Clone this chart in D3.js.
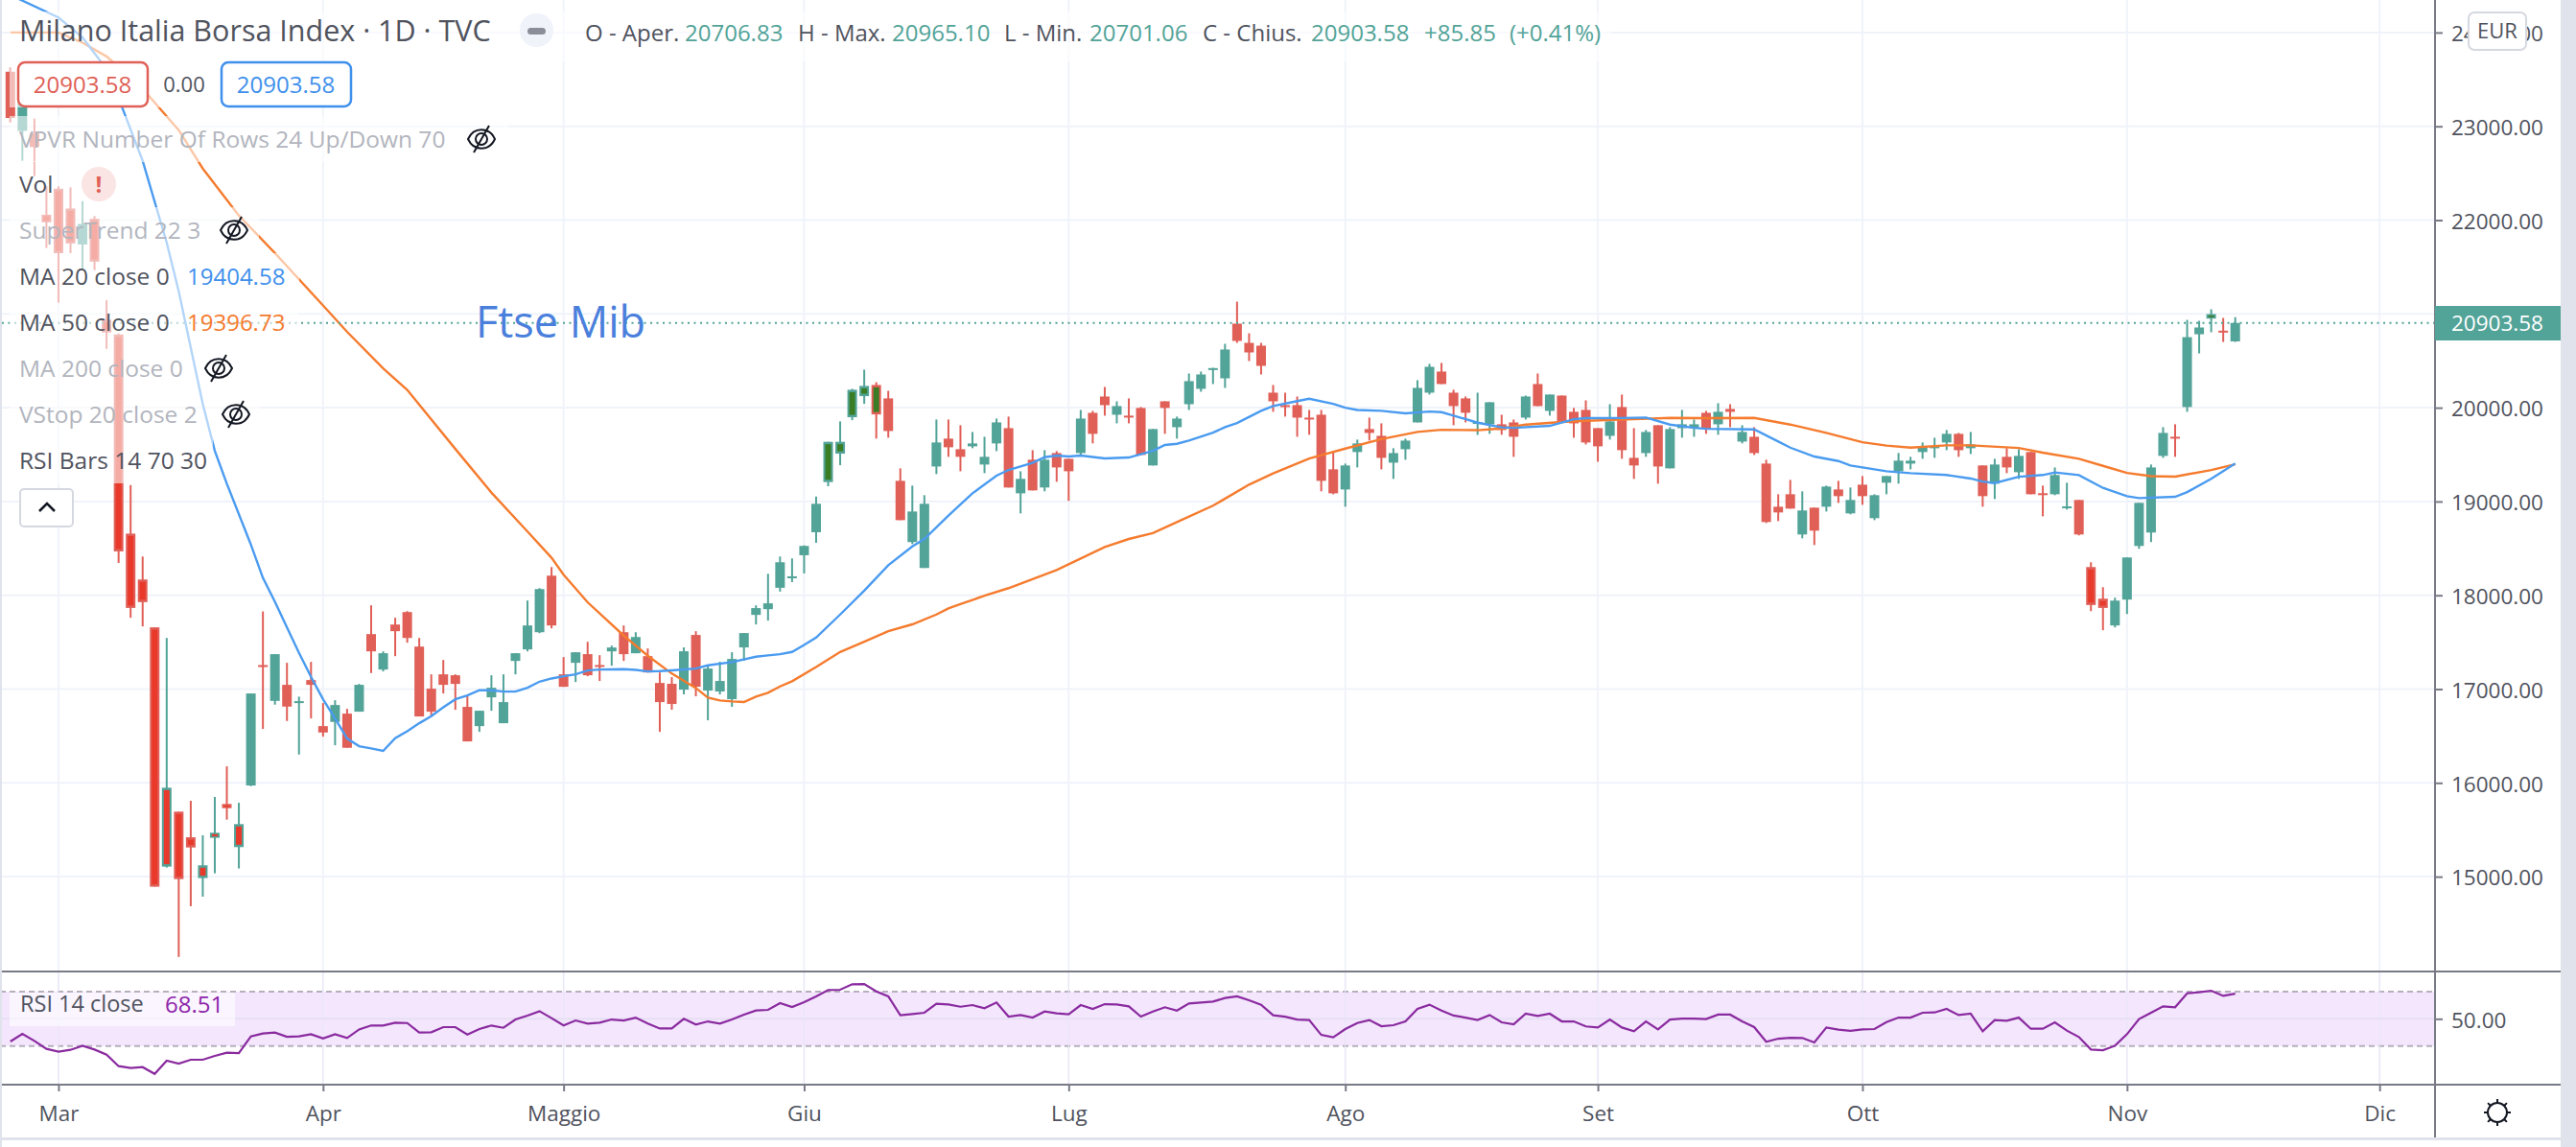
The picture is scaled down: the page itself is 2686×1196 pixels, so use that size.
<!DOCTYPE html>
<html>
<head>
<meta charset="utf-8">
<script src="https://cdn.jsdelivr.net/npm/d3@7"></script>
<style>
html,body{margin:0;padding:0;background:#fff;overflow:hidden}
svg{display:block}
text{font-family:"Open Sans",Lato,sans-serif}
</style>
</head>
<body>
<svg id="c" width="2686" height="1196"></svg>
<script>
const opens=[23582,22951,22925,22057,22334,22123,21740,22013,20937,20780,18657,18168,17658,15107,15693,15420,14985,15414,15775,15315,15972,17256,16874,17045,16854,17096,16605,16650,16738,16759,17586,17208,17688,17821,17453,17004,17157,17147,16810,16605,16912,16636,17300,17423,17606,18209,17157,17280,17372,17256,17402,17606,17382,17351,17065,17056,16994,17577,16984,16974,16892,17444,17791,17852,18080,18185,18427,18672,19207,19510,19898,20123,20242,20099,19220,18567,18291,19373,19670,19557,19588,19394,19619,19782,19087,19445,19149,19516,19455,19516,19945,20119,19925,19915,19997,19384,20068,19792,20037,20201,20405,20313,20896,20691,20661,20160,20027,20027,19894,19925,19343,19128,19527,19772,19700,19414,19557,19843,20160,20385,20160,20099,19830,19823,19823,19843,19894,20252,19966,20129,19956,19976,19782,19700,20007,19465,19516,19813,19353,19782,19782,19945,19823,19986,19639,19690,19404,18944,19077,18648,18934,18944,19128,18873,19179,18822,19200,19322,19404,19527,19581,19629,19721,19568,19384,19190,19476,19312,19527,19088,19077,18934,19016,18301,17964,17678,17954,18526,18669,19486,19690,20007,20783,20950,20821,20706.83];
const highs=[23629,23327,23082,22360,22360,22349,22203,22042,21145,20790,19175,18413,17658,17545,15693,15809,15441,15850,16176,15788,16953,17828,17372,17280,16919,17290,16851,16881,16789,17055,17893,17402,17760,17831,17545,17157,17310,17157,16925,16769,17147,17157,17382,17944,18076,18301,17341,17392,17504,17361,17463,17678,17606,17433,17177,17127,17444,17617,17250,17291,17393,17597,17893,18229,18413,18393,18532,19053,19636,19854,20201,20405,20272,20180,19353,19169,19067,19874,19874,19813,19741,19690,19884,19905,19322,19547,19547,19537,19455,19976,19966,20221,20068,20099,20007,19772,20068,19905,20364,20385,20426,20681,21130,20793,20691,20242,20160,20119,19976,19976,19527,19404,19660,19894,19833,19568,19670,20293,20467,20477,20191,20119,20160,20058,19925,19874,20129,20364,20140,20129,19997,20078,19782,20037,20140,19782,19762,19813,19792,19976,19874,19966,20048,20037,19813,19792,19445,19077,19230,19108,18934,19169,19220,19149,19271,19077,19271,19517,19476,19629,19680,19762,19731,19741,19384,19455,19568,19557,19527,19169,19363,19200,19016,18352,18086,17974,18403,18985,19394,19792,19823,20936,20926,21049,20957,20965.10];
const lows=[23042,22633,22469,21703,21120,21648,21484,21466,20627,18345,17760,17668,14893,15097,14144,14685,14787,15036,15608,15087,15965,16575,16834,16660,16302,16687,16493,16401,16374,16759,17171,17188,17351,17494,16708,16708,16953,16779,16442,16544,16769,16636,17157,17402,17596,17647,17024,17075,17137,17086,17249,17300,17382,17177,16544,16780,16943,16923,16667,16943,16810,17301,17689,17730,18039,18141,18233,18560,19162,19387,19867,20041,19670,19680,18801,18546,18291,19292,19476,19322,19568,19302,19537,19149,18873,19118,19108,19210,19006,19496,19619,19915,19833,19833,19496,19384,19721,19670,19976,20170,20252,20211,20691,20497,20354,19956,19905,19690,19711,19108,19077,18944,19363,19649,19343,19241,19445,19843,20140,20252,19813,19843,19710,19721,19711,19476,19874,20017,19915,19843,19680,19608,19424,19660,19455,19241,19476,19190,19353,19680,19690,19721,19711,19792,19619,19496,18771,18791,18924,18607,18536,18893,18985,18863,18965,18801,19077,19190,19343,19455,19465,19547,19476,19506,18944,19026,19302,19241,19077,18842,19067,18914,18638,17831,17627,17657,17800,18495,18567,19465,19476,19956,20579,20804,20701,20701.06];
const closes=[23089,23254,22779,21977,21648,21751,21959,21557,20802,18468,17865,17927,14893,15948,14974,15311,15121,15468,15730,15560,16953,17235,17372,16813,16871,17045,16537,16830,16374,17045,17402,17382,17617,17545,16708,16759,17045,17055,16442,16769,17014,16861,17382,17678,18066,17678,17024,17392,17147,17242,17443,17372,17555,17177,16861,16841,17403,17025,17219,17086,17321,17597,17863,17914,18352,18202,18526,18975,19636,19636,20191,20232,19928,19751,18801,18893,18975,19629,19578,19476,19619,19476,19843,19149,19241,19118,19445,19363,19322,19884,19721,20027,20017,19898,19496,19772,19997,19884,20283,20354,20422,20620,20712,20589,20446,20068,20007,19894,19877,19220,19087,19384,19619,19731,19465,19516,19649,20211,20436,20252,20017,19946,19847,20058,19762,19690,20119,20017,20140,19843,19833,19629,19588,19854,19547,19384,19741,19373,19772,19823,19823,19772,19956,19956,19741,19516,18781,18883,18924,18904,18689,19159,19057,19016,19057,19067,19271,19435,19435,19581,19588,19721,19547,19608,19057,19394,19363,19486,19077,19071,19282,18948,18648,17896,17865,17943,18403,18985,19363,19731,19673,20752,20855,20998,20804,20903.58];
const rsiValues=[33.3,38.9,33.8,27.9,25.8,27.2,30.2,27.4,23.6,15.2,13.8,14.5,9.5,19.2,17.1,19.9,19.9,22.7,25.1,24.8,37.1,39.2,39.9,36.8,37.1,38.7,35.6,38.7,35.9,42.2,45.1,45.1,47.2,46.9,39.9,40.1,43.9,43.9,38.5,42.5,45.1,43.4,49.5,52.4,55.6,50.5,45.1,48.8,46.5,47.2,49.5,48.8,50.9,46.5,42.9,42.9,50,45.8,48.1,46.5,49.5,53.1,56.1,56.6,61.5,58.7,62.2,66.5,71.2,71.4,75.4,75.6,70.2,66.5,52.6,53.5,54.5,61.1,60.6,58.9,60.1,57.8,62,51.6,52.8,50.9,55.4,54,53.3,60.1,57.3,60.8,60.6,59.2,51.6,55.4,58.5,56.1,61.3,62,62.7,65.3,66.5,63.6,60.4,52.6,51.6,49.5,49.1,38.2,36.4,42.5,46.9,49.1,44.6,45.3,48.1,57.3,60.4,56.1,52.4,50.9,49.1,52.8,47.4,46,53.8,52.1,53.8,48.1,48.1,44.4,43.6,49.5,43.6,40.8,48.1,42.2,49.5,50.2,50.2,49.8,53.1,53.1,48.1,43.9,33.1,35.4,36.1,35.9,32.6,43.6,42,41.1,42.2,42.5,47.6,50.9,50.9,54.5,54.7,57.3,52.8,53.8,40.8,49.1,48.6,50.9,42.7,42.7,47.4,41.3,36.6,27.4,26.9,30.2,38.7,49.8,54.5,59.2,58.5,68.8,69.5,70.7,66.9,68.51];
const ma20Bars=[0,4,6,8,9,11,13,14,16,17,18,20,21,22,23,24,25,26,27,28,29,30,31,32,33,34,35,36,37,38,39,40,41,42,43,44,45,46,47,48,49,51,52,53,54,55,57,58,60,62,63,64,65,66,67,69,71,73,75,76,78,80,82,83,85,86,87,88,89,90,91,93,95,96,97,98,100,101,102,104,105,107,108,110,111,112,114,116,118,119,120,122,124,125,128,130,131,134,136,138,140,141,145,147,148,150,152,153,156,158,161,163,164,165,167,169,170,172,174,176,177,180,181,183,185];
const ma20Values=[24400,24160,23947,23610,23300,22633,21760,21240,20040,19540,19190,18540,18185,17930,17658,17385,17130,16891,16687,16473,16391,16367,16340,16476,16551,16636,16711,16806,16891,16932,16987,16987,16973,16973,17014,17079,17113,17137,17157,17198,17208,17212,17205,17188,17191,17199,17219,17253,17287,17345,17359,17372,17396,17470,17549,17795,18050,18321,18520,18600,18849,19087,19275,19336,19411,19472,19489,19479,19489,19475,19459,19469,19540,19602,19615,19649,19734,19792,19837,19966,20017,20070,20095,20040,20000,19976,19966,19939,19959,19952,19915,19840,19790,19785,19806,19877,19888,19890,19895,19820,19785,19775,19768,19640,19574,19479,19431,19384,19322,19302,19282,19245,19213,19196,19264,19282,19309,19282,19145,19057,19036,19050,19100,19241,19404.58];
const ma50Bars=[0,4,6,8,11,14,16,19,22,26,28,31,33,37,40,43,45,46,48,51,53,55,57,58,59,60,61,62,63,64,65,67,69,71,73,75,77,78,79,81,83,87,91,93,95,97,100,103,105,108,111,114,117,119,122,124,126,129,131,135,138,141,145,148,151,154,156,158,161,163,167,169,172,174,176,178,180,183,185];
const ma50Values=[24000,24000,23892,23745,23400,22960,22550,22050,21648,21090,20809,20420,20189,19560,19095,18680,18400,18220,17925,17570,17355,17165,17011,16909,16879,16868,16862,16919,16960,17028,17083,17235,17396,17505,17617,17690,17795,17860,17905,17995,18076,18270,18515,18600,18662,18781,18955,19180,19300,19457,19564,19665,19741,19765,19760,19779,19820,19847,19860,19877,19891,19888,19891,19820,19731,19632,19596,19574,19598,19598,19570,19520,19455,19380,19305,19270,19265,19335,19396.73];
const priceTicks=[15000,16000,17000,18000,19000,20000,21000,22000,23000,24000];
const monthLabels=["Mar","Apr","Maggio","Giu","Lug","Ago","Set","Ott","Nov","Dic"];
const monthBars=[4,26,46,66,88,111,132,154,176,197];
const lastClose=20903.58;
const hiddenRows=[["VPVR Number Of Rows 24 Up/Down 70",145,502,530],["SuperTrend 22 3",240,244,270],["MA 200 close 0",384,228,255],["VStop 20 close 2",432,246,272]];

const GREEN="#52a398",RED="#e05f57",GRID="#f0f3fa",AX="#787b86",TXT="#50535e",FADE="#b2b5be";
const svg=d3.select("#c");
const paneRight=2539,paneBottom=1013,rsiBottom=1131,stripX=2670;
const x=d3.scaleLinear().domain([0,185]).range([10.8,2330.7]);
const y=d3.scaleLinear().domain([18000,23000]).range([620.7,131.7]);
const r=d3.scaleLinear().domain([30,70]).range([1090.7,1034]);

const defs=svg.append("defs");
defs.append("clipPath").attr("id","pc").append("rect").attr("x",0).attr("y",0).attr("width",paneRight).attr("height",paneBottom);

// grid
const grid=svg.append("g").attr("stroke",GRID).attr("stroke-width",2);
grid.selectAll(".h").data(priceTicks).join("line").attr("class","h").attr("x1",0).attr("x2",paneRight).attr("y1",d=>y(d)).attr("y2",d=>y(d));
grid.selectAll(".v").data(monthBars).join("line").attr("class","v").attr("x1",d=>x(d)).attr("x2",d=>x(d)).attr("y1",0).attr("y2",rsiBottom);

// RSI band
svg.append("rect").attr("x",0).attr("width",paneRight).attr("y",r(70)).attr("height",r(30)-r(70)).attr("fill","#f3e6fd");
svg.append("line").attr("x1",0).attr("x2",paneRight).attr("y1",r(50)).attr("y2",r(50)).attr("stroke","#e7dff3").attr("stroke-width",2);
[70,30].forEach(v=>svg.append("line").attr("x1",0).attr("x2",paneRight).attr("y1",r(v)).attr("y2",r(v)).attr("stroke","#b6b0bd").attr("stroke-width",2).attr("stroke-dasharray","6 4"));
monthBars.forEach(b=>svg.append("line").attr("x1",x(b)).attr("x2",x(b)).attr("y1",paneBottom).attr("y2",rsiBottom).attr("stroke","#e9e6f5").attr("stroke-width",1));

// candles
const bars=opens.map((o,i)=>({i,o,h:highs[i],l:lows[i],c:closes[i],rsi:rsiValues[i]}));
const cg=svg.append("g").attr("clip-path","url(#pc)");
const col=d=>d.c>=d.o?GREEN:RED;
cg.selectAll(".w").data(bars).join("rect").attr("class","w").attr("x",d=>x(d.i)-1).attr("width",2).attr("y",d=>y(d.h)).attr("height",d=>y(d.l)-y(d.h)).attr("fill",col);
const bodyTop=d=>y(Math.max(d.o,d.c)),bodyBot=d=>y(Math.min(d.o,d.c));
cg.selectAll(".b").data(bars).join("rect").attr("class","b").attr("x",d=>x(d.i)-5).attr("width",10).attr("y",bodyTop).attr("height",d=>Math.max(2,bodyBot(d)-bodyTop(d))).attr("fill",col);
const flagged=bars.filter(d=>d.rsi<30||d.rsi>70);
cg.selectAll(".n").data(flagged).join("rect").attr("class","n").attr("x",d=>x(d.i)-3).attr("width",6).attr("y",d=>bodyTop(d)+(bodyBot(d)-bodyTop(d)>8?2.5:1.5)).attr("height",d=>Math.max(1.5,bodyBot(d)-bodyTop(d)-(bodyBot(d)-bodyTop(d)>8?5:3))).attr("fill",d=>d.rsi<30?"#e8392a":"#3a7d24");

// moving averages
const ln=d3.line().x(d=>x(d[0])).y(d=>y(d[1]));
cg.append("path").attr("d",ln(d3.zip(ma50Bars,ma50Values))).attr("fill","none").attr("stroke","#f57b2e").attr("stroke-width",2.4);
cg.append("path").attr("d",ln(d3.zip(ma20Bars,ma20Values))).attr("fill","none").attr("stroke","#4a9bf0").attr("stroke-width",2.4);

// last price line
svg.append("line").attr("x1",2).attr("x2",paneRight).attr("y1",y(lastClose)).attr("y2",y(lastClose)).attr("stroke",GREEN).attr("stroke-width",2).attr("stroke-dasharray","2 4.5");

// RSI line
const rl=d3.line().x((d,i)=>x(i)).y(d=>r(d));
svg.append("path").attr("d",rl(rsiValues)).attr("fill","none").attr("stroke","#8a2a9f").attr("stroke-width",2.2);

// legend backdrops
const veil=(a,b,c,d)=>svg.append("rect").attr("x",a).attr("y",b).attr("width",c).attr("height",d).attr("fill","#fff").attr("opacity",.58);
veil(10,12,1670,52);
veil(10,64,370,48);
[[145,530],[192,123],[240,270],[288,312],[336,312],[384,255],[432,272],[480,222]].forEach(([cy,xe])=>veil(10,cy-24,xe-10,48));
veil(10,1035,235,35);

// legend text
const t=(s,px,py,size,fill,anchor)=>svg.append("text").attr("x",px).attr("y",py).attr("dy",".36em").attr("font-size",size).attr("fill",fill).attr("text-anchor",anchor||"start").text(s);
t("Milano Italia Borsa Index · 1D · TVC",20,32,30.5,TXT);
svg.append("rect").attr("x",542).attr("y",14).attr("width",35).attr("height",35).attr("rx",17).attr("fill","#f0f3fa");
svg.append("rect").attr("x",550).attr("y",29).attr("width",19).attr("height",7).attr("rx",3.5).attr("fill","#8b8e99");
[["O - Aper.",610,TXT],["20706.83",714,GREEN],["H - Max.",832,TXT],["20965.10",930,GREEN],["L - Min.",1047,TXT],["20701.06",1136,GREEN],["C - Chius.",1254,TXT],["20903.58",1367,GREEN],["+85.85",1485,GREEN],["(+0.41%)",1574,GREEN]].forEach(a=>t(a[0],a[1],34,24,a[2]));

const box=(a,w,c)=>svg.append("rect").attr("x",a).attr("y",65).attr("width",w).attr("height",46).attr("rx",7).attr("fill","#fff").attr("stroke",c).attr("stroke-width",2.5);
box(19,135,RED);box(231,135,"#3f90ec");
t("20903.58",86,88,24,RED,"middle");t("0.00",192,88,22,TXT,"middle");t("20903.58",298,88,24,"#3f90ec","middle");

hiddenRows.forEach(a=>{
  t(a[0],20,a[1],24.5,FADE);
  const g=svg.append("g").attr("transform",`translate(${a[2]},${a[1]})`).attr("fill","none").attr("stroke","#131722").attr("stroke-width",2);
  g.append("path").attr("d","M-14,0C-8,-13 8,-13 14,0C8,13 -8,13 -14,0Z");
  g.append("circle").attr("r",6);
  g.append("line").attr("x1",-8).attr("y1",14).attr("x2",8).attr("y2",-14);
});
t("Vol",20,192,24.5,TXT);
svg.append("circle").attr("cx",103).attr("cy",192).attr("r",18).attr("fill","#fae5e4");
svg.append("text").attr("x",103).attr("y",192).attr("dy",".36em").attr("text-anchor","middle").attr("font-size",24).attr("font-weight",700).attr("fill",RED).text("!");
t("MA 20 close 0",20,288,24.5,TXT);t("19404.58",195,288,24,"#3f90ec");
t("MA 50 close 0",20,336,24.5,TXT);t("19396.73",195,336,24,"#f57b2e");
t("RSI Bars 14 70 30",20,480,24.5,TXT);
svg.append("rect").attr("x",21).attr("y",510).attr("width",55).attr("height",39).attr("rx",4).attr("fill","#fff").attr("stroke","#d6d8e0").attr("stroke-width",2);
svg.append("path").attr("d","M41,533L49,525L57,533").attr("fill","none").attr("stroke","#131722").attr("stroke-width",2.5);
svg.append("text").attr("x",496).attr("y",336).attr("dy",".36em").attr("font-size",45).attr("fill","#4a80dc").text("Ftse Mib");
t("RSI 14 close",21,1047,23.5,TXT);t("68.51",172,1047,24,"#8e24aa");

// pane separators and axes
svg.append("line").attr("x1",0).attr("x2",stripX).attr("y1",paneBottom).attr("y2",paneBottom).attr("stroke",AX).attr("stroke-width",2);
svg.append("line").attr("x1",0).attr("x2",stripX).attr("y1",rsiBottom).attr("y2",rsiBottom).attr("stroke",AX).attr("stroke-width",2);
svg.append("line").attr("x1",paneRight).attr("x2",paneRight).attr("y1",0).attr("y2",1186).attr("stroke",AX).attr("stroke-width",2);

const yAxis=d3.axisRight(y).tickValues(priceTicks).tickFormat(d3.format(".2f")).tickSize(8).tickPadding(9);
const ya=svg.append("g").attr("transform",`translate(${paneRight},0)`).call(yAxis);
ya.select(".domain").remove();
ya.selectAll("line").attr("stroke",AX).attr("stroke-width",2);
ya.selectAll("text").attr("font-size",22.5).attr("fill",TXT).attr("font-family",'"Open Sans",sans-serif').attr("transform","translate(0,1.5)");
ya.selectAll(".tick").filter(d=>d===21000).select("text").remove();

const rAxis=d3.axisRight(r).tickValues([50]).tickFormat(d3.format(".2f")).tickSize(8).tickPadding(9);
const ra=svg.append("g").attr("transform",`translate(${paneRight},0)`).call(rAxis);
ra.select(".domain").remove();
ra.selectAll("line").attr("stroke",AX).attr("stroke-width",2);
ra.selectAll("text").attr("font-size",22.5).attr("fill",TXT).attr("font-family",'"Open Sans",sans-serif').attr("transform","translate(0,1.5)");

const xAxis=d3.axisBottom(x).tickValues(monthBars).tickFormat((d,i)=>monthLabels[i]).tickSize(7).tickPadding(15);
const xa=svg.append("g").attr("transform",`translate(0,${rsiBottom})`).call(xAxis);
xa.select(".domain").remove();
xa.selectAll("line").attr("stroke",AX).attr("stroke-width",2);
xa.selectAll("text").attr("font-size",22.5).attr("fill",TXT).attr("font-family",'"Open Sans",sans-serif');

// last price tag
svg.append("rect").attr("x",paneRight).attr("y",319).attr("width",stripX-paneRight).attr("height",36).attr("fill",GREEN);
t(d3.format(".2f")(lastClose),2556,337,22.5,"#fff");

// EUR button
svg.append("rect").attr("x",2574).attr("y",13).attr("width",60).attr("height",39).attr("rx",6).attr("fill","#fff").attr("stroke","#d6d8e0").attr("stroke-width",2);
t("EUR",2604,32,22,TXT,"middle");

// gear
const gear=svg.append("g").attr("transform","translate(2604,1160)").attr("fill","none").attr("stroke","#131722").attr("stroke-width",2);
gear.append("circle").attr("r",10);
d3.range(8).forEach(k=>{const a=k*Math.PI/4;gear.append("line").attr("x1",10*Math.cos(a)).attr("y1",10*Math.sin(a)).attr("x2",14*Math.cos(a)).attr("y2",14*Math.sin(a));});

// outer frame
svg.append("rect").attr("x",0).attr("y",0).attr("width",2).attr("height",1196).attr("fill","#e0e3eb");
svg.append("rect").attr("x",stripX).attr("y",0).attr("width",16).attr("height",1196).attr("fill","#e0e3eb");
svg.append("rect").attr("x",0).attr("y",1186).attr("width",stripX).attr("height",3).attr("fill","#e0e3eb");
</script>
</body>
</html>
